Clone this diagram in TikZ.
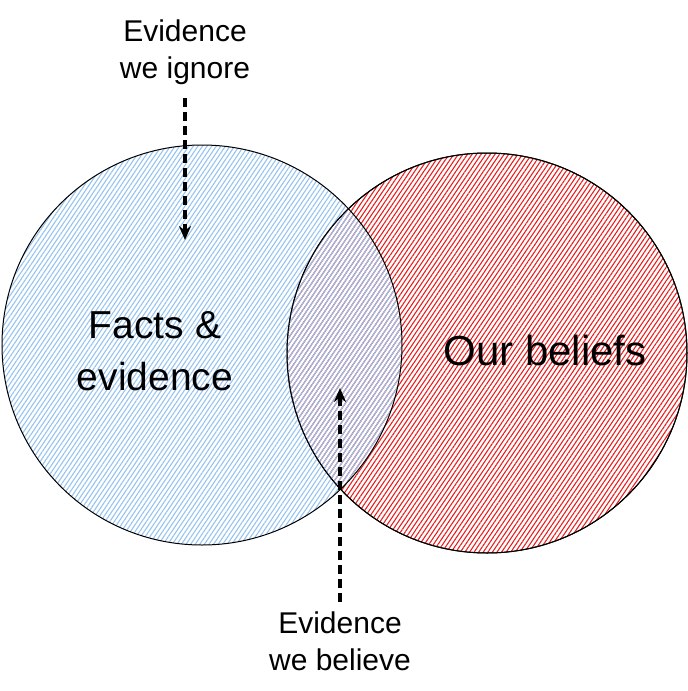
\documentclass[tikz,border=0pt]{standalone}
\usepackage{fontspec}
\setmainfont{Liberation Sans}
\usetikzlibrary{arrows.meta, positioning, patterns.meta}
\definecolor{factsblue}{RGB}{150,195,240}
\definecolor{beliefred}{RGB}{232,30,30}

\begin{document}
\begin{tikzpicture}[x=1pt, y=-1pt,
  venn/.style={circle, minimum size=400pt, inner sep=0pt, draw=black, line width=1pt},
  hatch/.style={pattern={Lines[angle=56, distance=3.8pt, line width=1.1pt]}},
  lbl/.style={align=center, font=\fontsize{30}{37}\selectfont},
  big/.style={align=center, font=\fontsize{39}{52}\selectfont},
  dasharr/.style={-{Stealth[length=14pt, width=12pt]}, line width=3.6pt, dash pattern=on 9pt off 5pt}
]
\useasboundingbox (0,0) rectangle (688,691);

\node[venn, hatch, pattern color=beliefred] (beliefs) at (487,353) {};
\node[venn, hatch, pattern color=factsblue] (facts) at (202,345) {};
\draw[line width=1pt] (beliefs.center) circle[radius=200pt];

\node[big] (factslbl) at (155,351) {Facts \&\\evidence};
\node[big, font=\fontsize{42}{52}\selectfont] (beliefslbl) at (545,350) {Our beliefs};

\node[lbl] (ignore) at (185,52) {Evidence\\we ignore};
\node[lbl] (believe) at (340,641) {Evidence\\we believe};

\coordinate (ignoretip) at (185,240);
\coordinate (believetip) at (340,388);

\draw[dasharr, shorten <=10pt] (ignore.south) -- (ignoretip);
\draw[dasharr, shorten <=6pt] (believe.north) -- (believetip);
\end{tikzpicture}
\end{document}
